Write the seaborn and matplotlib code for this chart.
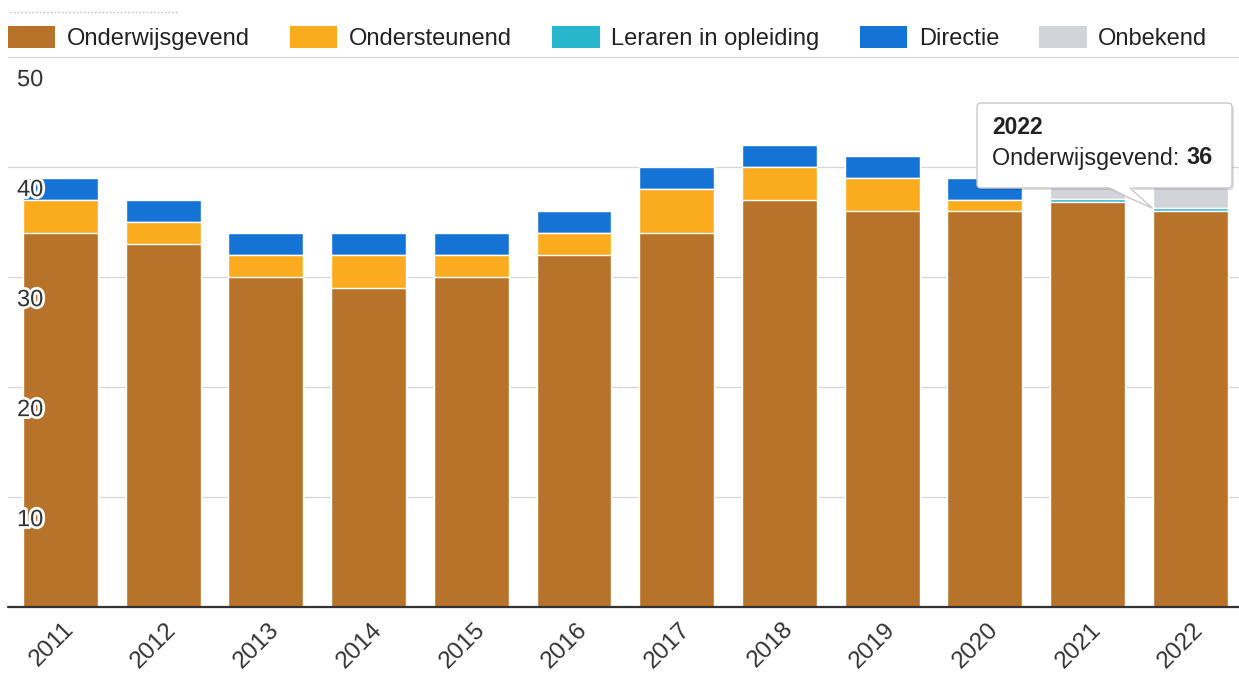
import numpy as np
import pandas as pd
import matplotlib
matplotlib.use("Agg")
import matplotlib.pyplot as plt
import matplotlib.patheffects as pe
import matplotlib.transforms as mtransforms
from matplotlib.patches import Patch, FancyBboxPatch, Polygon
from matplotlib.lines import Line2D
import seaborn as sns

# data (fte per jaar)
jaren = ["2011", "2012", "2013", "2014", "2015", "2016",
         "2017", "2018", "2019", "2020", "2021", "2022"]
onderwijsgevend = [34, 33, 30, 29, 30, 32, 34, 37, 36, 36, 36.8, 36]
ondersteunend = [3, 2, 2, 3, 2, 2, 4, 3, 3, 1, 0, 0]
leraren_in_opleiding = [0, 0, 0, 0, 0, 0, 0, 0, 0, 0, 0.3, 0.3]
directie = [2, 2, 2, 2, 2, 2, 2, 2, 2, 2, 0, 0]
onbekend = [0, 0, 0, 0, 0, 0, 0, 0, 0, 0, 1.5, 2.2]

reeksen = ["Onderwijsgevend", "Ondersteunend", "Leraren in opleiding", "Directie", "Onbekend"]
kleuren = ["#b8732b", "#fbac1e", "#27b6cc", "#1673d6", "#d3d3da"]
y_ticks = [10, 20, 30, 40, 50]

sns.set_theme(style="white")
plt.rcParams["font.family"] = ["Liberation Sans", "DejaVu Sans"]

W, H = 1239, 676
fig = plt.figure(figsize=(W / 100, H / 100), dpi=100)
ax = fig.add_axes([8 / W, 1 - 607 / H, (W - 8) / W, 550 / H])

# gestapelde balken: cumulatief, van boven naar beneden tekenen
waarden = np.array([onderwijsgevend, ondersteunend, leraren_in_opleiding, directie, onbekend])
cum = np.cumsum(waarden, axis=0)
df = pd.DataFrame({"jaar": jaren})
for i in reversed(range(len(reeksen))):
    df["stapel"] = cum[i]
    sns.barplot(data=df, x="jaar", y="stapel", color=kleuren[i], saturation=1,
                width=0.73, edgecolor="white", linewidth=1.0, errorbar=None,
                ax=ax, zorder=2)

ax.set_xlim(-0.511, 11.475)
ax.set_ylim(0, 50)
for v in y_ticks:
    ax.axhline(v, color="#d6d6d6", lw=0.9, zorder=1, clip_on=False)
ax.axhline(0, color="#333333", lw=1.6, zorder=3, clip_on=False)

sns.despine(ax=ax, left=True, bottom=True)
ax.set_xlabel("")
ax.set_ylabel("")
ax.set_yticks([])
ax.tick_params(axis="x", length=0, labelbottom=False)

# y-labels binnen de grafiek, met witte rand
trans_y = mtransforms.blended_transform_factory(ax.transAxes, ax.transData)
for v in y_ticks:
    ax.text(9 / 1231, v - 2.65, str(v), transform=trans_y, ha="left", va="baseline",
            fontsize=17, color="#333333", zorder=5,
            path_effects=[pe.withStroke(linewidth=4, foreground="white")])

# x-labels schuin
trans_x = mtransforms.blended_transform_factory(ax.transData, ax.transAxes)
offset = mtransforms.ScaledTranslation(10 / 100, -19 / 100, fig.dpi_scale_trans)
for i, jaar in enumerate(jaren):
    ax.text(i, 0, jaar, transform=trans_x + offset, rotation=45, ha="right", va="center",
            rotation_mode="anchor", fontsize=17.5, color="#333333", clip_on=False)

# legenda
handles = [Patch(facecolor=c, edgecolor="none", label=l) for c, l in zip(kleuren, reeksen)]
fig.legend(handles=handles, loc="upper left", bbox_to_anchor=(8 / W, 1 - 26 / H),
           ncol=5, frameon=False, fontsize=17, handlelength=2.0, handleheight=1.05,
           handletextpad=0.5, columnspacing=1.7, borderpad=0, borderaxespad=0,
           labelcolor="#222222")

# pixel-coordinaten (vanaf linksboven)
px = mtransforms.Affine2D().scale(1 / W, -1 / H).translate(0, 1) + fig.transFigure

fig.add_artist(Line2D([10, 178], [12, 12], transform=px, color="#bbbbbb", lw=1, ls=":"))

# tooltip
schaduw = FancyBboxPatch((979, 105), 255, 85, boxstyle="round,pad=0,rounding_size=4",
                         transform=px, facecolor="#000000", alpha=0.12, edgecolor="none")
kader = FancyBboxPatch((977, 103), 255, 85, boxstyle="round,pad=0,rounding_size=4",
                       transform=px, facecolor="white", edgecolor="#c8c8c8", lw=1)
punt = Polygon([(1107, 186), (1152, 208), (1130, 186)], closed=True, transform=px,
               facecolor="white", edgecolor="none")
fig.add_artist(schaduw)
fig.add_artist(kader)
fig.add_artist(punt)
fig.add_artist(Line2D([1107, 1152, 1130], [188, 208, 188], transform=px, color="#c8c8c8", lw=1))

fig.text(992 / W, 1 - 127 / H, "2022", fontsize=16.5, fontweight="bold", color="#222222", va="center")
fig.text(992 / W, 1 - 158 / H, "Onderwijsgevend: ", fontsize=16.8, color="#222222", va="center")
fig.text(1186 / W, 1 - 158 / H, "36", fontsize=16.8, fontweight="bold", color="#222222", va="center")

fig.savefig("out.png", dpi=100)
